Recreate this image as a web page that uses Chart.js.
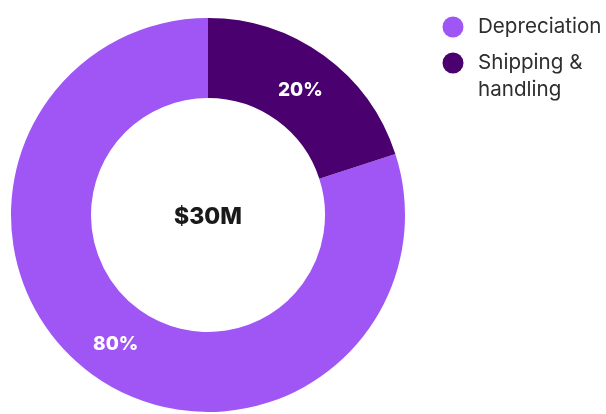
<!DOCTYPE html>
<html>
<head>
<meta charset="utf-8">
<script src="https://cdn.jsdelivr.net/npm/chart.js@4/dist/chart.umd.min.js"></script>
<style>
  html, body { margin: 0; padding: 0; background: #fff; }
  #wrap { position: relative; width: 606px; height: 414px; }
</style>
</head>
<body>
<div id="wrap"><canvas id="c" width="606" height="414"></canvas></div>
<script>
// Cost breakdown
const categories = ['Depreciation', ['Shipping &', 'handling']];
const shares = [80, 20];
const sliceColors = ['#A055F5', '#4A006E'];
const totalLabel = '$30M';

const FONT = 'Inter, "Open Sans", sans-serif';

// Percent labels on each arc, total in the hole, and a right-side legend
const annotate = {
  id: 'annotate',
  afterDatasetsDraw(chart) {
    const ctx = chart.ctx;
    const meta = chart.getDatasetMeta(0);
    ctx.save();
    ctx.textAlign = 'center';
    ctx.textBaseline = 'middle';
    ctx.fillStyle = '#ffffff';
    ctx.font = '800 19px ' + FONT;
    meta.data.forEach((arc, i) => {
      const p = arc.tooltipPosition();
      ctx.fillText(shares[i] + '%', p.x, p.y + 2);
    });
    const a0 = meta.data[0];
    ctx.fillStyle = '#1a1a1a';
    ctx.font = '800 23px ' + FONT;
    ctx.fillText(totalLabel, a0.x, a0.y + 2);

    // legend
    ctx.textAlign = 'left';
    ctx.font = '400 20.6px ' + FONT;
    let y = 27;
    categories.forEach((name, i) => {
      ctx.fillStyle = sliceColors[i];
      ctx.beginPath();
      ctx.arc(453, y, 10.5, 0, Math.PI * 2);
      ctx.fill();
      ctx.fillStyle = '#2e2e2e';
      const lines = Array.isArray(name) ? name : [name];
      lines.forEach((ln, j) => ctx.fillText(ln, 478, y + j * 27));
      y += 36;
    });
    ctx.restore();
  }
};

new Chart(document.getElementById('c'), {
  type: 'doughnut',
  data: {
    labels: categories,
    datasets: [{
      data: shares,
      backgroundColor: sliceColors,
      borderWidth: 0
    }]
  },
  options: {
    responsive: false,
    animation: false,
    // start the first slice so the smaller one ends up at 12 o'clock
    rotation: 72,
    circumference: 360,
    cutout: '59.4%',
    layout: { padding: { left: 11, right: 201, top: 18, bottom: 2 } },
    plugins: { legend: { display: false }, tooltip: { enabled: false } }
  },
  plugins: [annotate]
});
</script>
</body>
</html>
